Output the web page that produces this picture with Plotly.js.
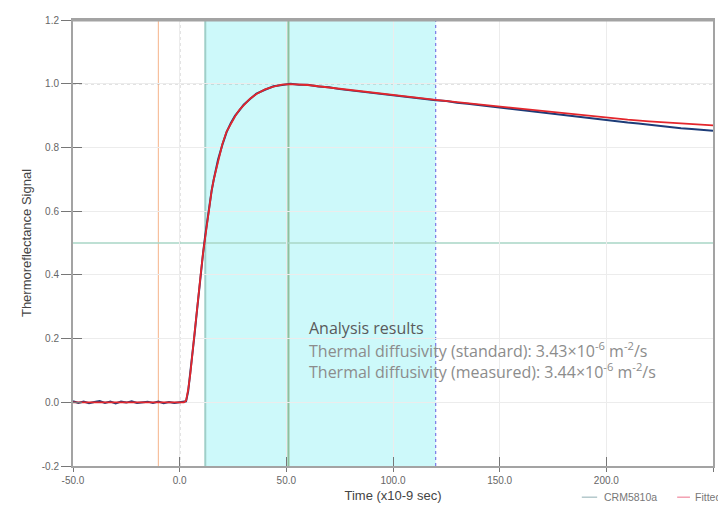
<!DOCTYPE html>
<html>
<head>
<meta charset="utf-8">
<script src="https://cdn.plot.ly/plotly-3.0.1.min.js"></script>
<style>
html,body{margin:0;padding:0;background:#fff;}
#chart{width:718px;height:507px;}
</style>
</head>
<body>
<div id="chart"></div>
<script>
// ---- data ----
const seriesNames = ["CRM5810a", "Fitted"];

const dataT = [-50,-47.5,-45,-42.5,-40,-37.5,-35,-32.5,-30,-27.5,-25,-22.5,-20,-17.5,-15,-12.5,-10,-7.5,-5,-2.5,0,1.5,3,4,5,6,7,8,9,10,11,12,13,14,15,16,18,20,22,24,26,28,30,33,36,40,44,48,52,56,60,65,70,75,80,85,90,95,100,105,110,115,120,125,130,135,140,145,150,155,160,165,170,175,180,185,190,195,200,205,210,215,220,225,230,235,240,245,250];
const dataY = [0.003,-0.002,0.002,-0.003,0.001,0.004,-0.002,0.002,-0.004,0.002,-0.001,0.003,-0.002,0.001,0.002,-0.002,0.002,-0.003,0.001,-0.002,0.000,0.002,0.003,0.035,0.09,0.15,0.215,0.28,0.35,0.415,0.47,0.525,0.575,0.62,0.665,0.70,0.762,0.808,0.848,0.877,0.90,0.916,0.934,0.952,0.969,0.981,0.992,0.996,1.0,0.997,0.997,0.991,0.989,0.983,0.979,0.975,0.970,0.968,0.962,0.960,0.955,0.952,0.948,0.946,0.940,0.937,0.933,0.930,0.925,0.921,0.918,0.912,0.909,0.905,0.900,0.897,0.892,0.889,0.885,0.882,0.878,0.875,0.871,0.866,0.864,0.860,0.858,0.855,0.852];

const fitT = [-50,-40,-30,-20,-10,0,2,3,4,5,6,7,8,9,10,11,12,13,14,15,16,18,20,22,24,26,28,30,33,36,40,44,48,52,56,60,65,70,80,90,100,110,120,130,140,150,160,170,180,190,200,210,220,230,240,250];
const fitY = [0,0,0,0,0,0,0,0.005,0.04,0.09,0.15,0.21,0.28,0.35,0.41,0.47,0.52,0.575,0.625,0.665,0.70,0.76,0.81,0.85,0.875,0.898,0.918,0.933,0.953,0.968,0.982,0.991,0.997,0.999,0.998,0.996,0.992,0.988,0.979,0.971,0.963,0.956,0.949,0.942,0.935,0.928,0.921,0.914,0.907,0.900,0.893,0.887,0.882,0.877,0.873,0.869];

const xTickVals = [-50,0,50,100,150,200,250];
const xTickText = ["-50.0","0.0","50.0","100.0","150.0","200.0","250.0"];
const yTickVals = [-0.2,0,0.2,0.4,0.6,0.8,1.0,1.2];
const yTickText = ["-0.2","0.0","0.2","0.4","0.6","0.8","1.0","1.2"];

const analysisWindow = [12, 120];
const triggerT = -10;
const zeroT = 0;
const peakT = 51;
const halfY = 0.5;
const maxY = 1.0;

const resultLines = [
  "Analysis results",
  "Thermal diffusivity (standard): 3.43×10<sup>-6</sup> m<sup>-2</sup>/s",
  "Thermal diffusivity (measured): 3.44×10<sup>-6</sup> m<sup>-2</sup>/s"
];

// ---- chart ----
const xRange = [-50, 250];
const yRange = [-0.2, 1.2];
const sans = "Liberation Sans, Arial, sans-serif";
const tickFont = {family: sans, size: 10, color: "#666"};

const traces = [
  {x: dataT, y: dataY, type: "scatter", mode: "lines", name: seriesNames[0],
   line: {color: "#1d3c78", width: 2}, showlegend: false, xaxis: "x", yaxis: "y"},
  {x: fitT, y: fitY, type: "scatter", mode: "lines", name: seriesNames[1],
   line: {color: "#e3262c", width: 1.8}, showlegend: false, xaxis: "x2", yaxis: "y2"}
];

const shapes = [
  {type: "rect", xref: "x", yref: "paper", x0: analysisWindow[0], x1: analysisWindow[1], y0: 0, y1: 1,
   fillcolor: "#cdf9fa", line: {width: 0}, layer: "below"},
  {type: "line", xref: "x", yref: "paper", x0: analysisWindow[0], x1: analysisWindow[0], y0: 0, y1: 1,
   line: {color: "#9fcfc8", width: 2}, layer: "below"},
  {type: "line", xref: "x", yref: "paper", x0: triggerT, x1: triggerT, y0: 0, y1: 1,
   line: {color: "#f6b48a", width: 1}, layer: "below"},
  {type: "line", xref: "x", yref: "paper", x0: zeroT, x1: zeroT, y0: 0, y1: 1,
   line: {color: "#555", width: 1, dash: "dot"}, layer: "below"},
  {type: "line", xref: "x", yref: "paper", x0: peakT, x1: peakT, y0: 0, y1: 1,
   line: {color: "#8fbf9c", width: 2}, layer: "below"},
  {type: "line", xref: "x", yref: "paper", x0: analysisWindow[1], x1: analysisWindow[1], y0: 0, y1: 1,
   line: {color: "#7a7ae6", width: 1.2, dash: "dot"}, layer: "below"},
  {type: "line", xref: "paper", yref: "y", x0: 0, x1: 1, y0: halfY, y1: halfY,
   line: {color: "#a9d6c6", width: 1.5}, layer: "below"},
  {type: "line", xref: "paper", yref: "y", x0: 0, x1: 1, y0: maxY, y1: maxY,
   line: {color: "#8a8a8a", width: 1.2, dash: "dot"}, layer: "below"},
  // top border, drawn heavier as in the reference
  {type: "line", xref: "paper", yref: "paper", x0: 0, x1: 1, y0: 1, y1: 1,
   line: {color: "#a3a3a3", width: 3}},
  // custom legend lines
  {type: "line", xref: "paper", yref: "paper", x0: 0.795, x1: 0.819, y0: -0.07, y1: -0.07,
   line: {color: "#b4c9cc", width: 1.5}},
  {type: "line", xref: "paper", yref: "paper", x0: 0.944, x1: 0.964, y0: -0.07, y1: -0.07,
   line: {color: "#f3a0b2", width: 1.5}}
];

const resFont = "Open Sans, Noto Sans, sans-serif";
const annotations = [
  {xref: "paper", yref: "paper", x: 0.366, y: 0.309, xanchor: "left", yanchor: "middle",
   text: resultLines[0], showarrow: false, font: {family: resFont, size: 16, color: "#5a5a5a"}},
  {xref: "paper", yref: "paper", x: 0.366, y: 0.260, xanchor: "left", yanchor: "middle",
   text: resultLines[1], showarrow: false, font: {family: resFont, size: 16, color: "#8c8c8c"}},
  {xref: "paper", yref: "paper", x: 0.366, y: 0.214, xanchor: "left", yanchor: "middle",
   text: resultLines[2], showarrow: false, font: {family: resFont, size: 16, color: "#8c8c8c"}},
  {xref: "paper", yref: "paper", x: 0.826, y: -0.07, xanchor: "left", yanchor: "middle",
   text: seriesNames[0], showarrow: false, font: {family: sans, size: 10.5, color: "#777"}},
  {xref: "paper", yref: "paper", x: 0.968, y: -0.07, xanchor: "left", yanchor: "middle",
   text: seriesNames[1], showarrow: false, font: {family: sans, size: 10.5, color: "#777"}}
];

const layout = {
  width: 718, height: 507,
  margin: {l: 73, r: 5, t: 20, b: 41},
  paper_bgcolor: "#ffffff", plot_bgcolor: "#ffffff",
  showlegend: false,
  xaxis: {
    range: xRange, tickvals: xTickVals, ticktext: xTickText,
    ticks: "outside", ticklen: 4, tickwidth: 1, tickcolor: "#777",
    showgrid: true, gridcolor: "#ececec", gridwidth: 1, zeroline: false,
    showline: true, linecolor: "#a3a3a3", linewidth: 2, mirror: true,
    tickfont: tickFont,
    title: {text: "Time (x10-9 sec)", font: {family: sans, size: 13, color: "#444"}, standoff: 6}
  },
  yaxis: {
    range: yRange, tickvals: yTickVals, ticktext: yTickText,
    ticks: "outside", ticklen: 10, tickwidth: 1, tickcolor: "#777",
    showgrid: true, gridcolor: "#ececec", gridwidth: 1, zeroline: false,
    showline: true, linecolor: "#a3a3a3", linewidth: 2, mirror: true,
    tickfont: tickFont,
    title: {text: "Thermoreflectance Signal", font: {family: sans, size: 13, color: "#444"}, standoff: 7}
  },
  xaxis2: {
    range: xRange, tickvals: xTickVals, overlaying: "x", anchor: "y2", side: "bottom",
    ticks: "inside", ticklen: 9, tickwidth: 1, tickcolor: "#777",
    showticklabels: false, showgrid: false, zeroline: false, showline: false
  },
  yaxis2: {
    range: yRange, tickvals: yTickVals, overlaying: "y", anchor: "x2", side: "left",
    ticks: "inside", ticklen: 9, tickwidth: 1, tickcolor: "#777",
    showticklabels: false, showgrid: false, zeroline: false, showline: false
  },
  shapes: shapes,
  annotations: annotations
};

Plotly.newPlot("chart", traces, layout, {displayModeBar: false, staticPlot: true});
</script>
</body>
</html>
